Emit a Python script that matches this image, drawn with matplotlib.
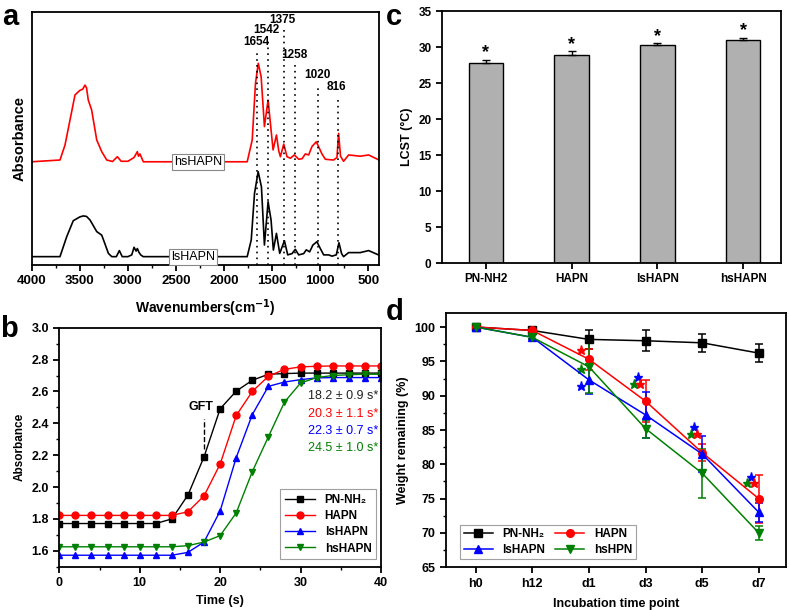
import numpy as np
import matplotlib
matplotlib.use('Agg')
import matplotlib.pyplot as plt
from matplotlib.ticker import MultipleLocator
from matplotlib.lines import Line2D

plt.rcParams['font.family'] = ['Liberation Sans', 'DejaVu Sans']
plt.rcParams['font.weight'] = 'bold'
plt.rcParams['axes.labelweight'] = 'bold'
plt.rcParams['axes.linewidth'] = 1.3

# ---- panel a: FTIR spectra (arbitrary absorbance units)
wn_hs = [4000, 3706, 3654, 3602, 3550, 3500, 3470, 3446, 3430, 3412, 3377, 3324, 3272,
         3220, 3160, 3110, 3070, 3000, 2936, 2902, 2890, 2875, 2840, 1760, 1708, 1674,
         1645, 1615, 1581, 1543, 1512, 1491, 1456, 1432, 1415, 1380, 1346, 1311, 1270,
         1225, 1190, 1156, 1121, 1087, 1042, 1018, 983, 948, 896, 862, 827, 810, 790,
         758, 706, 585, 498, 390]
ab_hs = [40.8, 41.5, 47.4, 57.3, 67.2, 69.0, 69.5, 71.1, 70.0, 65.2, 61.3, 49.4, 44.8,
         41.5, 40.9, 42.8, 41.0, 41.0, 42.5, 44.8, 43.0, 43.9, 40.8, 40.8, 49.4, 71.8,
         79.7, 74.4, 54.7, 65.2, 53.4, 45.5, 51.4, 45.1, 42.8, 47.8, 42.8, 42.2, 43.5,
         41.8, 42.0, 43.9, 43.5, 46.8, 48.7, 46.8, 43.9, 41.8, 41.6, 41.5, 42.5, 52.0,
         43.0, 41.0, 43.5, 43.0, 43.5, 41.5]
wn_ls = [4000, 3706, 3636, 3568, 3500, 3464, 3430, 3394, 3324, 3272, 3240, 3203, 3168,
         3120, 3089, 3059, 3000, 2960, 2936, 2915, 2902, 2885, 2867, 2841, 1760, 1718,
         1684, 1646, 1612, 1581, 1543, 1512, 1488, 1456, 1422, 1373, 1339, 1294, 1260,
         1225, 1173, 1146, 1111, 1077, 1035, 1000, 965, 913, 879, 834, 806, 779, 758,
         706, 585, 498, 390]
ab_ls = [3.3, 3.3, 11.2, 17.5, 19.0, 19.4, 19.2, 17.8, 13.2, 11.8, 8.5, 4.6, 3.3,
         3.3, 5.7, 3.3, 3.3, 4.0, 7.0, 5.5, 6.5, 5.0, 4.0, 3.3, 3.3, 9.9,
         28.3, 36.9, 30.9, 7.9, 25.0, 17.8, 5.9, 12.5, 4.6, 9.6, 4.0, 4.5, 6.2,
         4.0, 4.5, 6.0, 5.2, 7.9, 9.2, 6.5, 4.0, 4.0, 3.5, 4.0, 8.8, 4.5, 3.3,
         4.9, 4.9, 5.7, 3.9]
peaks = [1654, 1542, 1375, 1258, 1020, 816]
peak_top = [84.2, 89.0, 92.9, 79.1, 71.1, 66.4]

# ---- panel b: gelation kinetics
t = np.arange(0, 41, 2)
b_pn = [1.771] * 7 + [1.80, 1.950, 2.190, 2.491, 2.602, 2.670, 2.708, 2.712, 2.715,
                      2.715, 2.715, 2.715, 2.715, 2.715]
b_ha = [1.822] * 8 + [1.845, 1.945, 2.144, 2.449, 2.600, 2.695, 2.739, 2.754, 2.758,
                      2.760, 2.760, 2.760, 2.760]
b_ls = [1.572] * 8 + [1.590, 1.655, 1.850, 2.185, 2.455, 2.632, 2.659, 2.674, 2.685,
                      2.687, 2.687, 2.687, 2.687]
b_hs = [1.625] * 8 + [1.632, 1.655, 1.695, 1.838, 2.097, 2.316, 2.533, 2.653, 2.687,
                      2.700, 2.705, 2.708, 2.708]
gft_text = ['18.2 ± 0.9 s*', '20.3 ± 1.1 s*', '22.3 ± 0.7 s*', '24.5 ± 1.0 s*']

# ---- panel c: LCST
c_names = ['PN-NH2', 'HAPN', 'lsHAPN', 'hsHAPN']
c_vals = [27.8, 28.9, 30.3, 31.0]
c_err = [0.4, 0.5, 0.2, 0.3]

# ---- panel d: degradation
d_ticks = ['h0', 'h12', 'd1', 'd3', 'd5', 'd7']
d_pn = [100, 99.5, 98.2, 98.0, 97.7, 96.2]
d_pn_err = [0, 0.3, 1.35, 1.5, 1.3, 1.3]
d_ha = [100, 99.5, 95.3, 89.2, 81.7, 75.0]
d_ha_err = [0, 0.3, 1.5, 3.1, 1.2, 3.5]
d_ls = [100, 98.5, 92.3, 87.2, 81.5, 73.0]
d_ls_err = [0, 0.3, 2.1, 3.4, 2.6, 1.4]
d_hs = [100, 98.5, 94.2, 85.2, 78.7, 70.0]
d_hs_err = [0, 0.3, 3.8, 1.3, 3.6, 1.0]

RED, BLUE, GREEN = '#ff0000', '#0000ff', '#008000'

fig = plt.figure(figsize=(7.89, 6.10), dpi=100)

def px_axes(l, t_, r, b):
    return fig.add_axes([l / 789, 1 - b / 610, (r - l) / 789, (b - t_) / 610])

# ================= a
ax = px_axes(31.7, 12, 379, 265)
ax.plot(wn_hs, ab_hs, color=RED, lw=1.2)
ax.plot(wn_ls, ab_ls, color='black', lw=1.2)
for p, top in zip(peaks, peak_top):
    ax.plot([p, p], [0, top], color='black', ls=(0, (1, 2.5)), lw=1.2)
    ax.text(p + 15, top + 1.5, str(p), ha='center', va='bottom', fontsize=8.5)
ax.set_xlim(4000, 390)
ax.set_ylim(0, 100)
ax.set_yticks([])
ax.xaxis.set_major_locator(MultipleLocator(500))
ax.xaxis.set_minor_locator(MultipleLocator(250))
ax.tick_params(axis='x', labelsize=9.5, width=1.3, length=4, direction='out')
ax.tick_params(axis='x', which='minor', width=1.0, length=2.5)
ax.set_xlabel('Wavenumbers(cm$^{\\mathbf{-1}}$)', fontsize=10, labelpad=7)
ax.set_ylabel('Absorbance', fontsize=10.5, labelpad=4)
box = dict(boxstyle='square,pad=0.15', fc='white', ec='#888888', lw=0.8)
ax.text(2268, 40.8, 'hsHAPN', ha='center', va='center', fontsize=9, weight='normal', bbox=box)
ax.text(2320, 3.3, 'lsHAPN', ha='center', va='center', fontsize=9, weight='normal', bbox=box)

# ================= c
ax = px_axes(442, 11, 781, 263)
xc = np.arange(len(c_names))
ax.bar(xc, c_vals, width=0.4, color='#b0b0b0', edgecolor='black', lw=1.0,
       yerr=[[0] * len(c_err), c_err], capsize=3, error_kw=dict(lw=1.0, capthick=1.0))
for i, v in enumerate(c_vals):
    ax.text(i, v + c_err[i] + 1.0, '*', ha='center', va='center', fontsize=13)
ax.set_xlim(-0.51, 3.44)
ax.set_ylim(0, 35)
ax.set_xticks(xc)
ax.set_xticklabels(c_names)
ax.yaxis.set_major_locator(MultipleLocator(5))
ax.tick_params(labelsize=8.5, width=1.3, length=4)
ax.set_ylabel('LCST (°C)', fontsize=9)

# ================= b
ax = px_axes(59.3, 327.7, 381, 566.7)
ms = 4.5
ax.plot(t, b_pn, '-s', color='black', ms=ms, lw=1.0, label='PN-NH₂')
ax.plot(t, b_ha, '-o', color=RED, ms=ms + 0.5, lw=1.0, label='HAPN')
ax.plot(t, b_ls, '-^', color=BLUE, ms=ms + 0.5, lw=1.0, label='lsHAPN')
ax.plot(t, b_hs, '-v', color=GREEN, ms=ms + 0.5, lw=1.0, label='hsHAPN')
ax.plot([18, 18], [2.24, 2.43], color='black', ls='--', lw=1.0)
ax.text(17.6, 2.50, 'GFT', ha='center', va='center', fontsize=9)
for s, col, yy in zip(gft_text, ['#222222', RED, BLUE, GREEN], [2.571, 2.459, 2.354, 2.245]):
    ax.text(39.7, yy, s, ha='right', va='center', fontsize=9, weight='normal', color=col)
ax.set_xlim(0, 40)
ax.set_ylim(1.5, 3.0)
ax.xaxis.set_major_locator(MultipleLocator(10))
ax.xaxis.set_minor_locator(MultipleLocator(5))
ax.yaxis.set_major_locator(MultipleLocator(0.2))
ax.yaxis.set_minor_locator(MultipleLocator(0.1))
ax.tick_params(labelsize=9, width=1.3, length=4)
ax.tick_params(which='minor', width=1.0, length=2.5)
ax.set_xlabel('Time (s)', fontsize=9)
ax.set_ylabel('Absorbance', fontsize=8.5)
leg = ax.legend(loc='lower right', fontsize=8.5, fancybox=False, edgecolor='#888888',
                handlelength=2.6, borderpad=0.4, labelspacing=0.35, borderaxespad=0,
                bbox_to_anchor=(0.985, 0.031))
leg.get_frame().set_linewidth(0.8)

# ================= d
ax = px_axes(445.7, 313.3, 786, 567.3)
xd = np.arange(len(d_ticks))
kw = dict(lw=1.1, capsize=3, elinewidth=1.1, capthick=1.1, ms=5.5)
series = [(d_pn, d_pn_err, 's', 'black', 'PN-NH₂'),
          (d_ha, d_ha_err, 'o', RED, 'HAPN'),
          (d_ls, d_ls_err, '^', BLUE, 'lsHAPN'),
          (d_hs, d_hs_err, 'v', GREEN, 'hsHPN')]
handles = {}
for vals, err, mk, col, lab in series:
    ax.errorbar(xd, vals, yerr=err, fmt='-' + mk, color=col, **kw)
    handles[lab] = Line2D([], [], color=col, marker=mk, ms=5.5, lw=1.1)
# significance stars next to d1..d7
star_dx = {BLUE: -0.14, GREEN: -0.2, RED: -0.09}
for i in range(2, 6):
    if i == 2:
        pts = [(RED, -0.14, 96.7), (GREEN, -0.14, 93.95), (BLUE, -0.14, 91.45)]
    else:
        ytop = [92.7, 85.4, 78.2][i - 3]
        pts = [(BLUE, star_dx[BLUE], ytop), (GREEN, star_dx[GREEN], ytop - 0.95),
               (RED, star_dx[RED], ytop - 0.95)]
    for col, dx, yy in pts:
        ax.plot(i + dx, yy, marker='*', color=col, ms=6.5, ls='none')
ax.set_xlim(-0.53, 5.48)
ax.set_ylim(65, 102)
ax.set_xticks(xd)
ax.set_xticklabels(d_ticks)
ax.yaxis.set_major_locator(MultipleLocator(5))
ax.yaxis.set_minor_locator(MultipleLocator(2.5))
ax.tick_params(labelsize=9, width=1.3, length=4)
ax.tick_params(which='minor', width=1.0, length=2.5)
ax.set_xlabel('Incubation time point', fontsize=9, labelpad=6)
ax.set_ylabel('Weight remaining (%)', fontsize=9)
order = ['PN-NH₂', 'lsHAPN', 'HAPN', 'hsHPN']
leg = ax.legend([handles[k] for k in order], order, ncol=2,
                loc='lower left', fontsize=8.5, fancybox=False, edgecolor='#888888',
                handlelength=2.5, columnspacing=0.8, borderpad=0.3, labelspacing=0.3,
                borderaxespad=0, bbox_to_anchor=(0.042, 0.031))
leg.get_frame().set_linewidth(0.8)

# panel letters
for lab, x, y in [('a', 2, 25), ('c', 386, 25), ('b', 0, 337), ('d', 386, 320)]:
    fig.text(x / 789, 1 - y / 610, lab, fontsize=21, weight='bold', ha='left', va='baseline')

fig.savefig('out.png', dpi=100)
